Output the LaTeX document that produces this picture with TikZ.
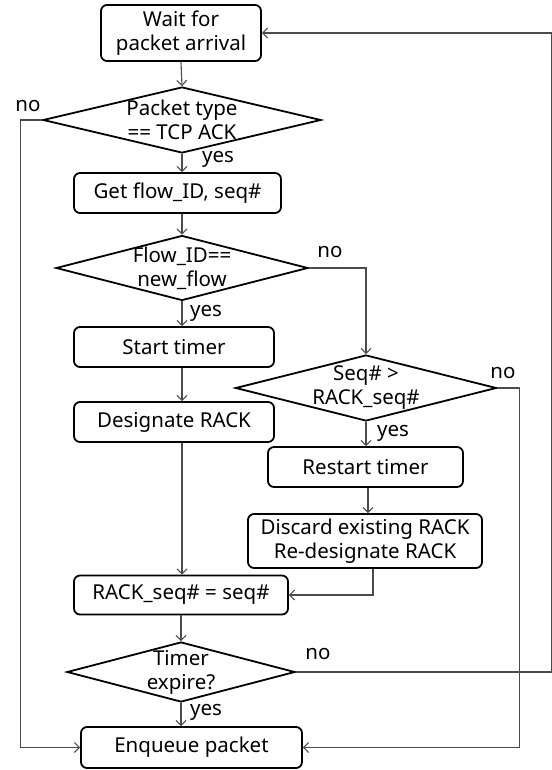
\documentclass[tikz,border=0pt]{standalone}
\usepackage{fontspec}
\setmainfont{Noto Sans}
\usetikzlibrary{shapes.geometric, arrows.meta}
\definecolor{wire}{RGB}{75,75,75}

\tikzset{
  txt/.style={align=center, font=\fontsize{20.5}{24}\selectfont, inner sep=0pt},
  process/.style={txt, draw, line width=1.8pt, rounded corners=6pt},
  decision/.style={draw, diamond, line width=1.8pt, inner sep=0pt},
  flow/.style={draw=wire, line width=1.1pt, -{Straight Barb[length=5pt, width=10pt]}},
  answer/.style={txt}
}

\begin{document}
\begin{tikzpicture}[x=1pt, y=-1pt]
  \useasboundingbox (0,0) rectangle (551,770);

  % boxes
  \node[process, minimum width=160pt, minimum height=56pt] (wait) at (181,33) {Wait for\\packet arrival};
  \node[process, minimum width=207pt, minimum height=40pt] (getid) at (177.5,193) {Get flow\_ID, seq\#};
  \node[process, minimum width=200pt, minimum height=40pt] (start) at (174,347) {Start timer};
  \node[process, minimum width=200pt, minimum height=40pt] (desig) at (174,422) {Designate RACK};
  \node[process, minimum width=195pt, minimum height=40pt] (restart) at (365.5,467) {Restart timer};
  \node[process, minimum width=234pt, minimum height=54pt] (redesig) at (365,541) {Discard existing RACK\\Re-designate RACK};
  \node[process, minimum width=214pt, minimum height=39pt] (setseq) at (181,595) {RACK\_seq\# = seq\#};
  \node[process, minimum width=221pt, minimum height=41pt] (enq) at (191.5,747.5) {Enqueue packet};

  % decisions
  \node[decision, minimum width=278pt, minimum height=66pt,
        label={[txt]center:Packet type\\== TCP ACK}] (istcp) at (182,120) {};
  \node[decision, minimum width=252pt, minimum height=65pt,
        label={[txt]center:Flow\_ID==\\new\_flow}] (isnew) at (182,268) {};
  \node[decision, minimum width=261pt, minimum height=66pt,
        label={[txt]center:Seq\# >\\RACK\_seq\#}] (isnewer) at (366,388) {};
  \node[decision, minimum width=228pt, minimum height=60pt,
        label={[txt]center:Timer\\expire?}] (expire) at (181,672) {};

  % yes / no
  \node[answer] (no1) at (28,106) {no};
  \node[answer] (yes1) at (218,159) {yes};
  \node[answer] (no2) at (330,252) {no};
  \node[answer] (yes2) at (206,313) {yes};
  \node[answer] (no3) at (503,373) {no};
  \node[answer] (yes3) at (393,433) {yes};
  \node[answer] (no4) at (318,654) {no};
  \node[answer] (yes4) at (206,712) {yes};

  \coordinate (back) at (551.6,672);

  % main column
  \draw[flow] (wait.south) -- (istcp.north);
  \draw[flow] (istcp.south) -- (istcp.south |- getid.north);
  \draw[flow] (isnew.north |- getid.south) -- (isnew.north);
  \draw[flow] (isnew.south) -- (isnew.south |- start.north);
  \draw[flow] (isnew.south |- start.south) -- (isnew.south |- desig.north);
  \draw[flow] (isnew.south |- desig.south) -- (isnew.south |- setseq.north);
  \draw[flow] (expire.north |- setseq.south) -- (expire.north);
  \draw[flow] (expire.south) -- (expire.south |- enq.north);

  % right branch
  \draw[flow] (isnew.east) -| (isnewer.north);
  \draw[flow] (isnewer.south) -- (isnewer.south |- restart.north);
  \draw[flow] ([xshift=2.5pt]restart.south) -- ([xshift=2.5pt]restart.south |- redesig.north);
  \draw[flow] ([xshift=8pt]redesig.south) |- (setseq.east);

  % skips and loop back
  \draw[flow] (istcp.west) -- ++(-22,0) |- (enq.west);
  \draw[flow] (isnewer.east) -- ++(22,0) |- (enq.east);
  \draw[flow] (expire.east) -- (back) |- (wait.east);
\end{tikzpicture}
\end{document}
